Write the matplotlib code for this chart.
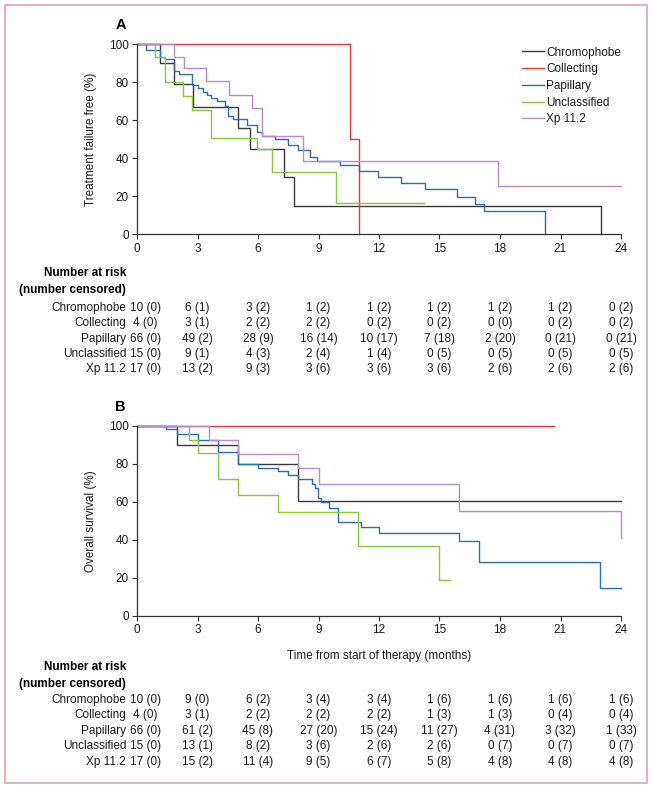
import matplotlib
matplotlib.use('Agg')
import matplotlib.pyplot as plt
import matplotlib.transforms as mtransforms
from matplotlib.patches import Rectangle

plt.rcParams['font.family'] = ['Liberation Sans', 'DejaVu Sans']

W, H = 653, 787

groups = ['Chromophobe', 'Collecting', 'Papillary', 'Unclassified', 'Xp 11.2']
colors = ['#3a3a3a', '#e8392d', '#2d6db5', '#8cc63e', '#b88ccb']
months = [0, 3, 6, 9, 12, 15, 18, 21, 24]

# panel A: treatment failure free (%), step times, levels after each step, end of curve
a_chromo_t = [0, 1.12, 1.81, 2.77, 5.03, 5.62, 7.3, 7.78, 23.0]
a_chromo_s = [100, 90, 79, 67, 56, 45, 30, 15, 0]
a_chromo_end = 23.0
a_collect_t = [0, 10.55, 11.0]
a_collect_s = [100, 50, 0]
a_collect_end = 11.0
a_papill_t = [0, 0.46, 1.12, 1.37, 1.81, 2.08, 2.74, 3.0, 3.26, 3.49, 3.69, 3.95, 4.37, 4.53,
              4.78, 5.44, 5.93, 6.18, 6.84, 7.5, 7.99, 8.57, 8.93, 10.09, 11.01, 11.95, 13.1,
              14.26, 15.88, 16.78, 17.23, 20.23]
a_papill_s = [100, 97, 93.5, 92.3, 86, 84.4, 78.6, 76.8, 75, 73.3, 71.6, 70.2, 67.4, 62.4,
              60.7, 57.5, 53.7, 51.9, 50, 47, 44.4, 40.9, 38.8, 36.3, 33.3, 30.4, 27.2,
              24, 19.5, 16, 12.3, 0]
a_papill_end = 20.23
a_unclass_t = [0, 0.87, 1.37, 2.27, 2.74, 3.66, 5.93, 6.68, 9.89]
a_unclass_s = [100, 93.3, 80, 72.6, 65.3, 50.9, 44.7, 33, 16.7]
a_unclass_end = 14.22
a_xp_t = [0, 1.81, 2.31, 3.43, 4.58, 5.72, 6.18, 8.24, 17.92]
a_xp_s = [100, 93.5, 87.4, 80.7, 73.3, 66.3, 51.6, 38.6, 25.6]
a_xp_end = 24.0

# panel B: overall survival (%)
b_chromo_t = [0, 2.0, 4.99, 7.97]
b_chromo_s = [100, 90, 80, 60.4]
b_chromo_end = 24.0
b_collect_t = [0]
b_collect_s = [100]
b_collect_end = 20.7
b_papill_t = [0, 1.46, 2.0, 3.0, 4.0, 4.99, 5.98, 6.98, 7.48, 7.97, 8.69, 8.85, 8.97, 9.13,
              9.51, 9.97, 11.12, 11.98, 15.96, 16.97, 22.97]
b_papill_s = [100, 98.2, 95.4, 92.5, 86, 79.6, 77.9, 76.3, 74, 71.8, 69.2, 67.4, 62.1, 60,
              56.5, 49.5, 46.8, 43.4, 39.3, 28.4, 14.4]
b_papill_end = 24.0
b_unclass_t = [0, 2.59, 3.0, 4.0, 4.99, 6.98, 10.97, 14.97]
b_unclass_s = [100, 92.6, 85.8, 72, 63.7, 54.7, 36.8, 18.8]
b_unclass_end = 15.5
b_xp_t = [0, 3.58, 4.99, 7.97, 9.0, 15.96, 24.0]
b_xp_s = [100, 92.6, 85, 77.5, 69.2, 55, 41]
b_xp_end = 24.0

# number at risk (number censored)
a_risk = {
    'Chromophobe': ['10 (0)', '6 (1)', '3 (2)', '1 (2)', '1 (2)', '1 (2)', '1 (2)', '1 (2)', '0 (2)'],
    'Collecting': ['4 (0)', '3 (1)', '2 (2)', '2 (2)', '0 (2)', '0 (2)', '0 (0)', '0 (2)', '0 (2)'],
    'Papillary': ['66 (0)', '49 (2)', '28 (9)', '16 (14)', '10 (17)', '7 (18)', '2 (20)', '0 (21)', '0 (21)'],
    'Unclassified': ['15 (0)', '9 (1)', '4 (3)', '2 (4)', '1 (4)', '0 (5)', '0 (5)', '0 (5)', '0 (5)'],
    'Xp 11.2': ['17 (0)', '13 (2)', '9 (3)', '3 (6)', '3 (6)', '3 (6)', '2 (6)', '2 (6)', '2 (6)'],
}
b_risk = {
    'Chromophobe': ['10 (0)', '9 (0)', '6 (2)', '3 (4)', '3 (4)', '1 (6)', '1 (6)', '1 (6)', '1 (6)'],
    'Collecting': ['4 (0)', '3 (1)', '2 (2)', '2 (2)', '2 (2)', '1 (3)', '1 (3)', '0 (4)', '0 (4)'],
    'Papillary': ['66 (0)', '61 (2)', '45 (8)', '27 (20)', '15 (24)', '11 (27)', '4 (31)', '3 (32)', '1 (33)'],
    'Unclassified': ['15 (0)', '13 (1)', '8 (2)', '3 (6)', '2 (6)', '2 (6)', '0 (7)', '0 (7)', '0 (7)'],
    'Xp 11.2': ['17 (0)', '15 (2)', '11 (4)', '9 (5)', '6 (7)', '5 (8)', '4 (8)', '4 (8)', '4 (8)'],
}

curves_a = [(a_chromo_t, a_chromo_s, a_chromo_end), (a_collect_t, a_collect_s, a_collect_end),
            (a_papill_t, a_papill_s, a_papill_end), (a_unclass_t, a_unclass_s, a_unclass_end),
            (a_xp_t, a_xp_s, a_xp_end)]
curves_b = [(b_chromo_t, b_chromo_s, b_chromo_end), (b_collect_t, b_collect_s, b_collect_end),
            (b_papill_t, b_papill_s, b_papill_end), (b_unclass_t, b_unclass_s, b_unclass_end),
            (b_xp_t, b_xp_s, b_xp_end)]

fig = plt.figure(figsize=(W / 100, H / 100), dpi=100)
txt = '#1a1a1a'


def fx(px):
    return px / W


def fy(py):
    return 1 - py / H


fig.patches.append(Rectangle((fx(5), fy(783)), fx(642), 778 / H, transform=fig.transFigure,
                             fill=False, edgecolor='#e2a2b3', linewidth=1.2))


def panel(top_px, curves, ylabel, letter, risk, rows_y, head_y, xlabel=None):
    ax = fig.add_axes([fx(137), fy(top_px + 190), fx(484), 190 / H])
    for (t, s, end), c, g in zip(curves, colors, groups):
        ax.step(t + [end], s + [s[-1]], where='post', color=c, lw=1.0, label=g, clip_on=False)
    ax.set_xlim(0, 24)
    ax.set_ylim(0, 100)
    ax.set_xticks(months)
    ax.set_yticks([0, 20, 40, 60, 80, 100])
    for sp in ['top', 'right']:
        ax.spines[sp].set_visible(False)
    for sp in ['left', 'bottom']:
        ax.spines[sp].set_color('#333333')
        ax.spines[sp].set_linewidth(0.9)
    ax.tick_params(direction='out', length=3.5, width=0.8, color='#333333',
                   labelsize=8.5, pad=2.5, labelcolor=txt)
    ax.set_ylabel(ylabel, fontsize=8.5, color=txt)
    ax.yaxis.set_label_coords(-0.082, 0.5)
    fig.text(fx(120.5), fy(top_px - 19), letter, fontsize=10.5, fontweight='bold',
             ha='center', va='center')
    if xlabel:
        fig.text(fx(379), fy(top_px + 230), xlabel, fontsize=8.5, ha='center', va='center',
                 color=txt)
    fig.text(fx(126), fy(head_y), 'Number at risk', fontsize=8.5, fontweight='bold',
             ha='right', va='center')
    fig.text(fx(126), fy(head_y + 17.5), '(number censored)', fontsize=8.5, fontweight='bold',
             ha='right', va='center')
    tr = mtransforms.blended_transform_factory(ax.transData, fig.transFigure)
    for g, ry in zip(groups, rows_y):
        fig.text(fx(126), fy(ry), g, fontsize=8.5, ha='right', va='center', color=txt)
        for m, v in zip(months, risk[g]):
            xm = m + 0.42 if m == 0 else m
            ax.text(xm, fy(ry), v, transform=tr, fontsize=8.5, ha='center', va='center',
                    color=txt)
    return ax


ax_a = panel(44.3, curves_a, 'Treatment failure free (%)', 'A', a_risk,
             [308, 323.5, 339, 354, 369.5], 273)
ax_a.legend(loc='upper right', bbox_to_anchor=(1.0, 0.988), frameon=False, fontsize=8.5,
            handlelength=1.85, handletextpad=0.2, labelspacing=0.4, borderpad=0,
            borderaxespad=0, labelcolor=txt)

panel(425.7, curves_b, 'Overall survival (%)', 'B', b_risk,
      [700, 715.3, 730.6, 746, 761.5], 667, xlabel='Time from start of therapy (months)')

fig.savefig('out.png', dpi=100)
